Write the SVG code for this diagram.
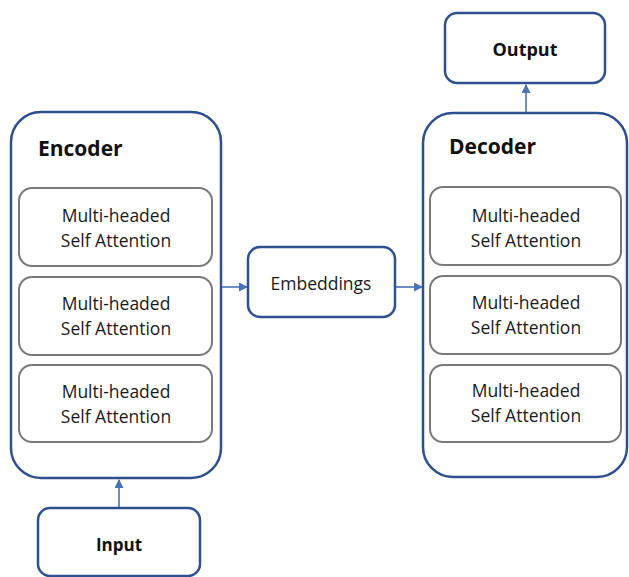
<svg xmlns="http://www.w3.org/2000/svg" width="629" height="577" viewBox="0 0 629 577">
<defs>
<style>
.outer{fill:#fff;stroke:#2f4f8f;stroke-width:2.5}
.inner{fill:#fff;stroke:#7a7a7a;stroke-width:2}
.t{font-family:"Open Sans","Liberation Sans",sans-serif;font-size:17.5px;fill:#1a1a1a;text-anchor:middle}
.b{font-family:"Open Sans","Liberation Sans",sans-serif;font-weight:bold;fill:#111}
.c{stroke:#4a72b8;stroke-width:1.6;fill:none;marker-end:url(#ah)}
</style>
<marker id="ah" markerWidth="9" markerHeight="9" refX="8" refY="4.5" orient="auto" markerUnits="userSpaceOnUse">
<path d="M0,0 L9,4.5 L0,9 Z" fill="#4a72b8"/>
</marker>
</defs>
<rect width="629" height="577" fill="#fff"/>
<g id="connectors">
<line class="c" x1="119" y1="507" x2="119" y2="480"/>
<line class="c" x1="221" y1="287" x2="247" y2="287"/>
<line class="c" x1="396" y1="287" x2="422" y2="287"/>
<line class="c" x1="526" y1="112" x2="526" y2="85"/>
</g>
<g id="encoder">
<rect class="outer" x="11" y="112" width="210" height="366" rx="30"/>
<text class="b" x="38" y="156" font-size="21">Encoder</text>
</g>
<g id="enc1"><rect class="inner" x="19" y="188" width="193" height="78" rx="13"/><text class="t" x="116" y="222">Multi-headed</text><text class="t" x="116" y="247">Self Attention</text></g>
<g id="enc2"><rect class="inner" x="19" y="277" width="193" height="78" rx="13"/><text class="t" x="116" y="310">Multi-headed</text><text class="t" x="116" y="335">Self Attention</text></g>
<g id="enc3"><rect class="inner" x="19" y="365" width="193" height="77" rx="13"/><text class="t" x="116" y="398">Multi-headed</text><text class="t" x="116" y="423">Self Attention</text></g>
<g id="input"><rect class="outer" x="38" y="508" width="162" height="68" rx="12"/><text class="b" x="119" y="551" font-size="17" text-anchor="middle">Input</text></g>
<g id="embeddings"><rect class="outer" x="248" y="247" width="147" height="70" rx="12"/><text class="t" x="321" y="290">Embeddings</text></g>
<g id="decoder">
<rect class="outer" x="423" y="113" width="204" height="364" rx="30"/>
<text class="b" x="449" y="154" font-size="21">Decoder</text>
</g>
<g id="dec1"><rect class="inner" x="430" y="187" width="191" height="78" rx="13"/><text class="t" x="526" y="222">Multi-headed</text><text class="t" x="526" y="247">Self Attention</text></g>
<g id="dec2"><rect class="inner" x="430" y="276" width="191" height="78" rx="13"/><text class="t" x="526" y="309">Multi-headed</text><text class="t" x="526" y="334">Self Attention</text></g>
<g id="dec3"><rect class="inner" x="430" y="365" width="191" height="77" rx="13"/><text class="t" x="526" y="397">Multi-headed</text><text class="t" x="526" y="422">Self Attention</text></g>
<g id="output"><rect class="outer" x="445" y="13" width="160" height="70" rx="12"/><text class="b" x="525" y="56" font-size="18" text-anchor="middle">Output</text></g>
</svg>
